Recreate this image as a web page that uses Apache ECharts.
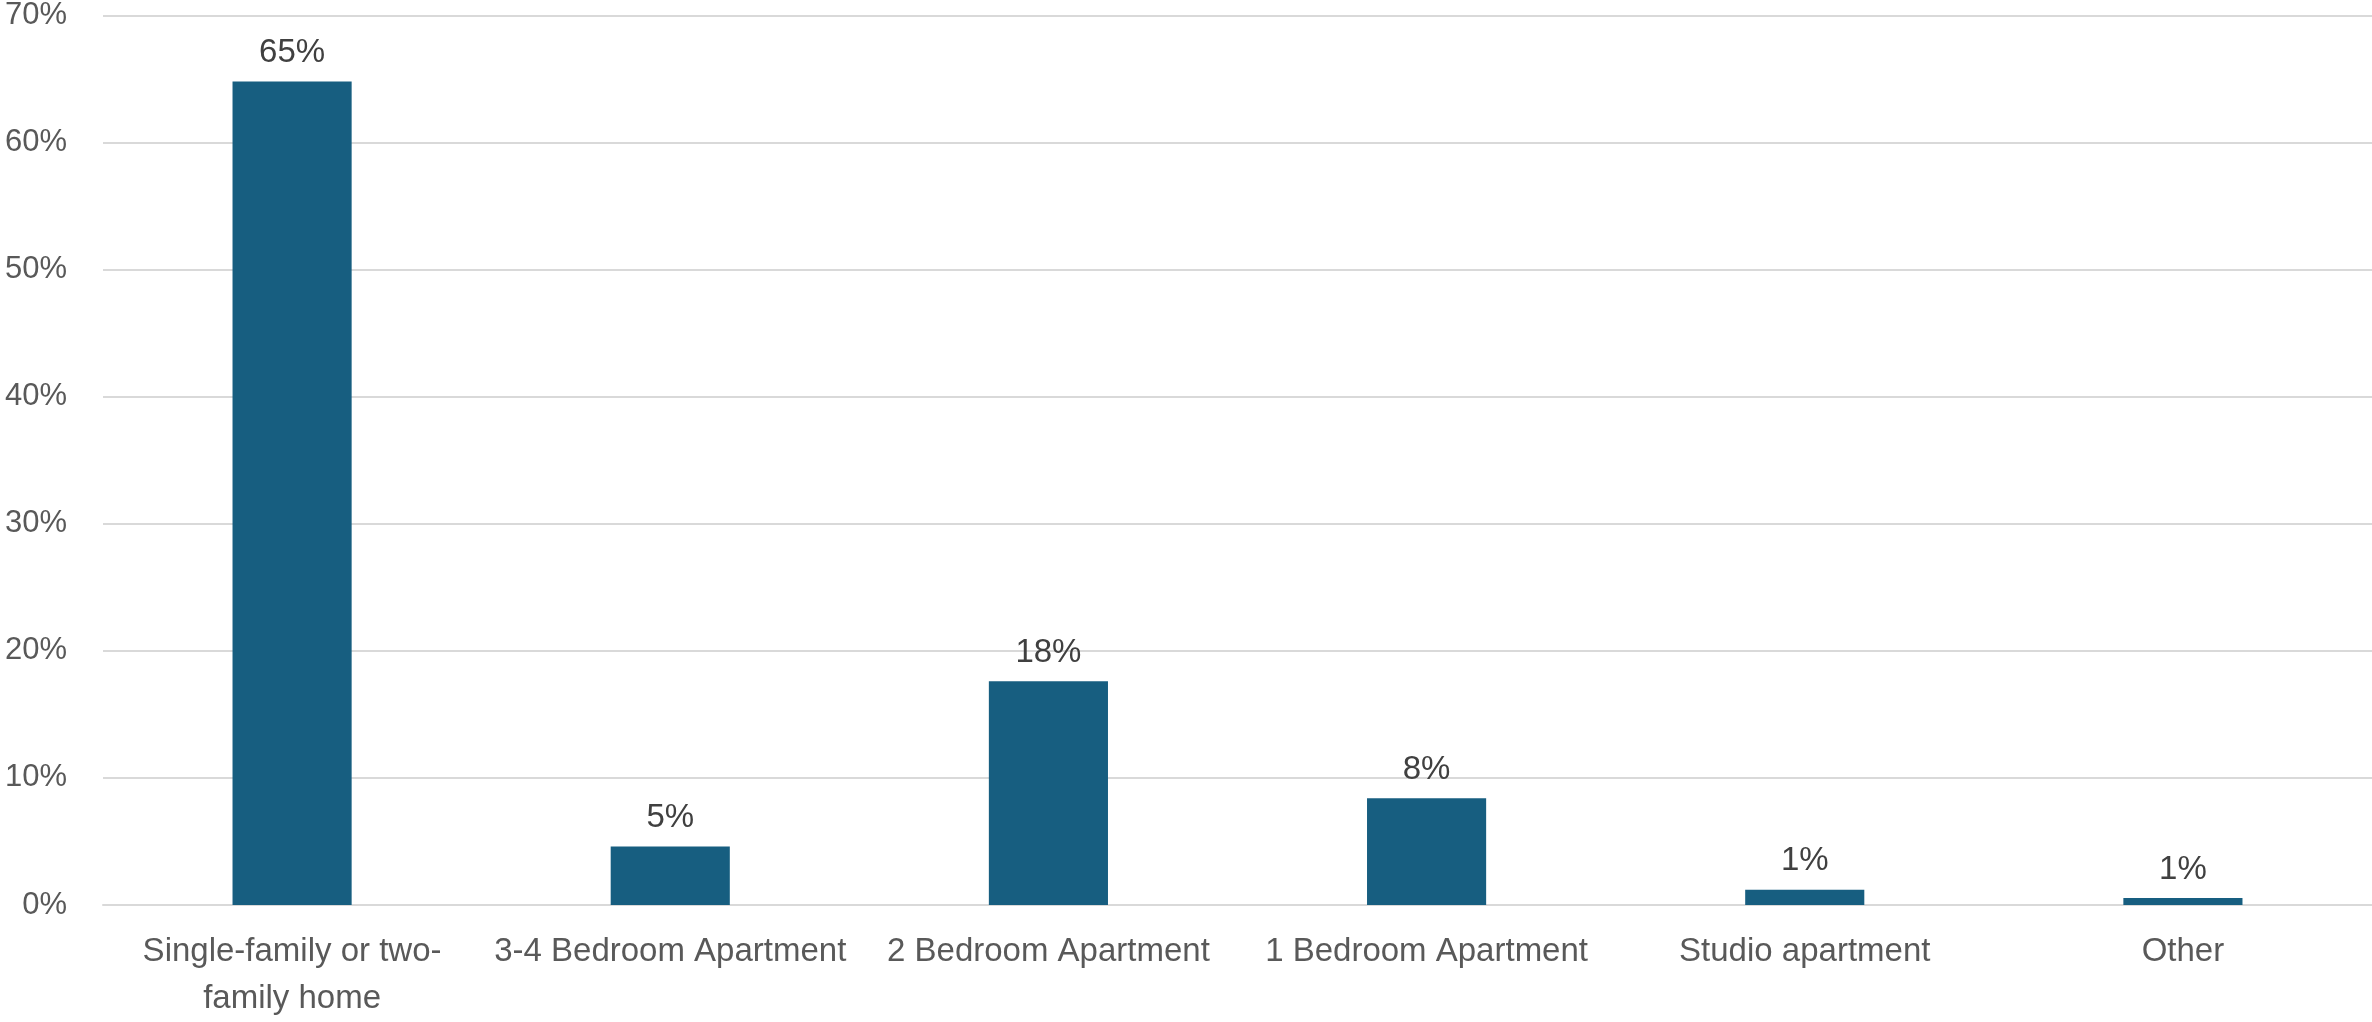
<!DOCTYPE html>
<html>
<head>
<meta charset="utf-8">
<title>Home type</title>
<script src="https://cdn.jsdelivr.net/npm/echarts@6/dist/echarts.min.js"></script>
<style>
  html, body { margin: 0; padding: 0; background: #fff; }
  #chart { width: 2372px; height: 1022px; }
</style>
</head>
<body>
<div id="chart"></div>
<script>
// categories and values (percent)
const categories = [
  'Single-family or two-\nfamily home',
  '3-4 Bedroom Apartment',
  '2 Bedroom Apartment',
  '1 Bedroom Apartment',
  'Studio apartment',
  'Other'
]
const shares = [64.8, 4.6, 17.6, 8.4, 1.2, 0.55]
const yTicks = [0, 10, 20, 30, 40, 50, 60, 70]

const chart = echarts.init(document.getElementById('chart'), null, { renderer: 'canvas' })

const option = {
  backgroundColor: '#ffffff',
  animation: false,
  textStyle: { fontFamily: 'Liberation Sans, Arial, sans-serif' },
  grid: { left: 103, right: 0, top: 14, bottom: 112 },
  xAxis: {
    type: 'category',
    data: categories,
    axisLine: { show: true, lineStyle: { color: '#d9d9d9', width: 2 } },
    axisTick: { show: false },
    axisLabel: {
      color: '#595959',
      fontSize: 33,
      lineHeight: 47,
      margin: 23,
      interval: 0
    }
  },
  yAxis: {
    type: 'value',
    min: yTicks[0],
    max: yTicks[yTicks.length - 1],
    interval: 10,
    axisLine: { show: false },
    axisTick: { show: false },
    splitLine: { lineStyle: { color: '#d9d9d9', width: 2 } },
    axisLabel: {
      color: '#595959',
      fontSize: 31,
      margin: 36,
      formatter: (v) => v + '%'
    }
  },
  series: [
    {
      type: 'bar',
      data: shares,
      barWidth: '31.5%',
      itemStyle: { color: '#175e80' },
      label: {
        show: true,
        position: 'top',
        distance: 12,
        color: '#404040',
        fontSize: 33,
        formatter: (p) => Math.round(p.value) + '%'
      }
    }
  ]
}

chart.setOption(option)
</script>
</body>
</html>
